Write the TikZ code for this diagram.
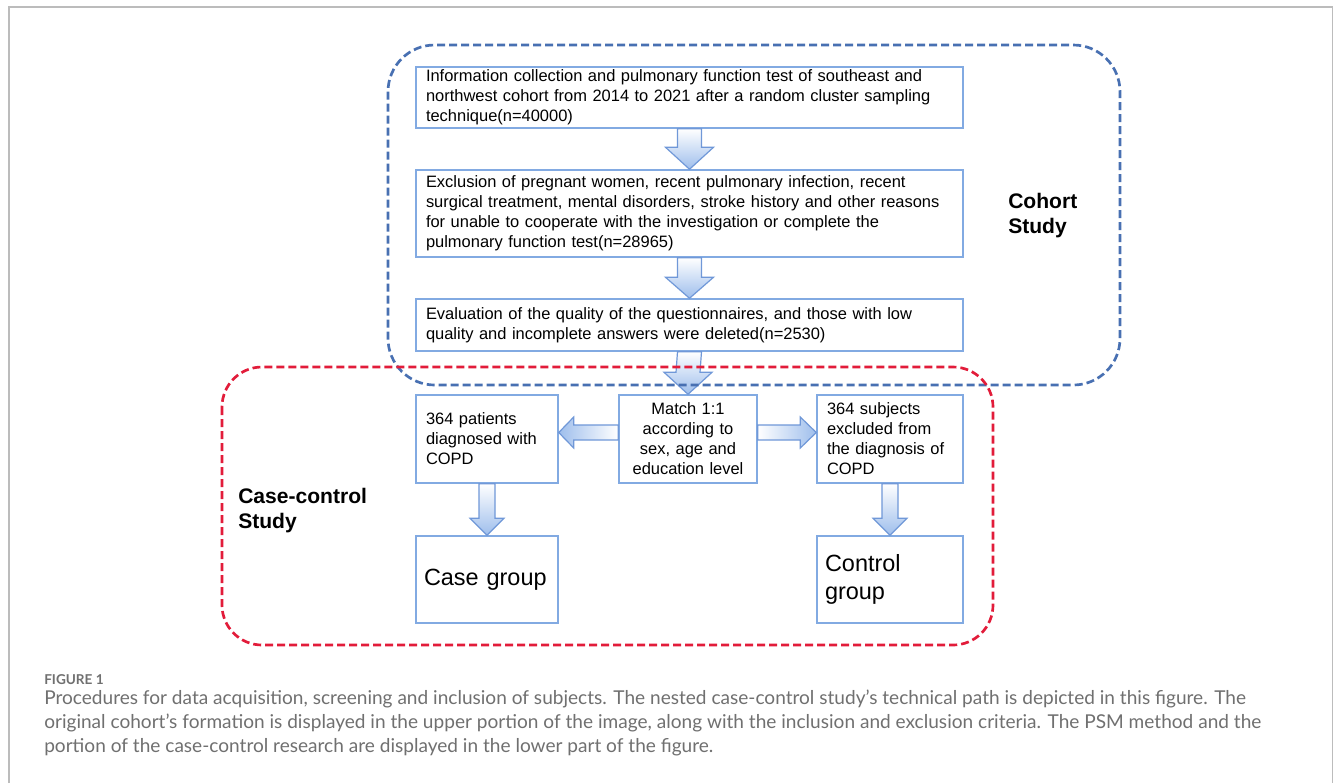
\documentclass[tikz,border=0pt]{standalone}
\usepackage{fontspec}
\setmainfont{Liberation Sans}
\newfontfamily\capfont{Lato}
\usetikzlibrary{calc}
\definecolor{boxline}{RGB}{130,170,226}
\definecolor{arrowline}{RGB}{112,152,216}
\definecolor{arrowfill}{RGB}{158,190,236}
\definecolor{cohortblue}{RGB}{72,112,178}
\definecolor{casered}{RGB}{226,28,58}
\definecolor{capgray}{RGB}{112,112,112}
\definecolor{framegray}{RGB}{188,188,188}

\newcommand{\flowdown}[5]{%
  \draw[flowarrow,top color=white,bottom color=arrowfill]
    ($(#1.south)+(-#3,0)$) -- ($(#2.north)+(-#3,-#5)$) -- ($(#2.north)+(-#4,-#5)$)
    -- (#2.north) -- ($(#2.north)+(#4,-#5)$) -- ($(#2.north)+(#3,-#5)$)
    -- ($(#1.south)+(#3,0)$) -- cycle;}
\newcommand{\flowside}[6]{%
  \draw[flowarrow,#6]
    ($(#1)+(0,-#3)$) -- ($(#2)+(#5,-#3)$) -- ($(#2)+(#5,-#4)$)
    -- (#2) -- ($(#2)+(#5,#4)$) -- ($(#2)+(#5,#3)$)
    -- ($(#1)+(0,#3)$) -- cycle;}

\begin{document}
\begin{tikzpicture}[x=0.75pt,y=-0.75pt,
  flowbox/.style={draw=boxline,line width=1.1pt,fill=white,inner xsep=7.5pt,inner ysep=0pt,
    align=left,font=\fontsize{12.35}{15}\selectfont},
  groupbox/.style={flowbox,inner xsep=6pt,font=\fontsize{17.6}{21.5}\selectfont},
  flowarrow/.style={draw=arrowline,line width=0.9pt,line join=miter},
  studylabel/.style={inner sep=0pt,align=left,font=\fontsize{15.8}{18.75}\selectfont\bfseries},
  cohortframe/.style={draw=cohortblue,line width=2pt,dash pattern=on 6pt off 3pt,rounded corners=35pt},
  caseframe/.style={draw=casered,line width=2pt,dash pattern=on 6pt off 3pt,rounded corners=30pt},
  caption/.style={inner sep=0pt,text=capgray,font=\capfont\fontsize{14.3}{18}\selectfont}]
\useasboundingbox[fill=white] (0,0) rectangle (1333,783);
\draw[framegray,line width=1.1pt] (9,783) -- (9,7) -- (1332.5,7) -- (1332.5,783);

\node[flowbox,text width=395.25pt,minimum height=45.75pt] (info) at (689.5,97.5)
  {Information collection and pulmonary function test of southeast and\\
   northwest cohort from 2014 to 2021 after a random cluster sampling\\
   technique(n=40000)};
\node[flowbox,text width=395.25pt,minimum height=65.25pt] (excl) at (689.5,213.5)
  {Exclusion of pregnant women, recent pulmonary infection, recent\\
   surgical treatment, mental disorders, stroke history and other reasons\\
   for unable to cooperate with the investigation or complete the\\
   pulmonary function test(n=28965)};
\node[flowbox,text width=395.25pt,minimum height=39pt] (eval) at (689.5,325)
  {Evaluation of the quality of the questionnaires, and those with low\\
   quality and incomplete answers were deleted(n=2530)};
\node[flowbox,align=center,text width=88.5pt,minimum height=66pt] (match) at (688,439)
  {Match 1:1\\ according to\\ sex, age and\\ education level};
\node[flowbox,text width=91.5pt,minimum height=66pt] (cases) at (487,439)
  {364 patients\\ diagnosed with\\ COPD};
\node[flowbox,text width=94.5pt,minimum height=66pt] (controls) at (890,439)
  {364 subjects\\ excluded from\\ the diagnosis of\\ COPD};
\node[groupbox,text width=94.5pt,minimum height=65.25pt] (casegrp) at (487,579.5)
  {Case group};
\node[groupbox,text width=97.5pt,minimum height=65.25pt] (ctrlgrp) at (890,579.5)
  {Control\\ group};

\flowdown{info}{excl}{12}{24}{22}
\flowdown{excl}{eval}{12}{24}{21}
\flowdown{eval}{match}{12}{24}{22}
\flowdown{cases}{casegrp}{8}{17}{17}
\flowdown{controls}{ctrlgrp}{8}{17}{17}
\coordinate (ml) at ($(match.west)+(0,-6.5)$);
\coordinate (mr) at ($(match.east)+(0,-6.5)$);
\coordinate (cr) at ($(cases.east)+(0,-6.5)$);
\coordinate (tl) at ($(controls.west)+(0,-6.5)$);
\flowside{ml}{cr}{7.5}{15.5}{15}{left color=arrowfill,right color=white}
\flowside{mr}{tl}{7.5}{15.5}{-16}{left color=white,right color=arrowfill}

\draw[cohortframe] (388,45) rectangle (1120,385);
\draw[caseframe] (222,367) rectangle (993,645);
\node[studylabel,anchor=west] (cohort) at (1008,216) {Cohort\\Study};
\node[studylabel,anchor=west] (casectrl) at (238,511) {Case-control\\Study};

\node[caption,anchor=base west,font=\capfont\bfseries\fontsize{10.2}{12}\selectfont] (figno) at (44,684) {FIGURE 1};
\node[caption,anchor=base west] (capa) at (44,704)
  {Procedures for data acquisition, screening and inclusion of subjects. The nested case-control study’s technical path is depicted in this figure. The};
\node[caption,anchor=base west] (capb) at (44,728)
  {original cohort’s formation is displayed in the upper portion of the image, along with the inclusion and exclusion criteria. The PSM method and the};
\node[caption,anchor=base west] (capc) at (44,752)
  {portion of the case-control research are displayed in the lower part of the figure.};
\end{tikzpicture}
\end{document}
